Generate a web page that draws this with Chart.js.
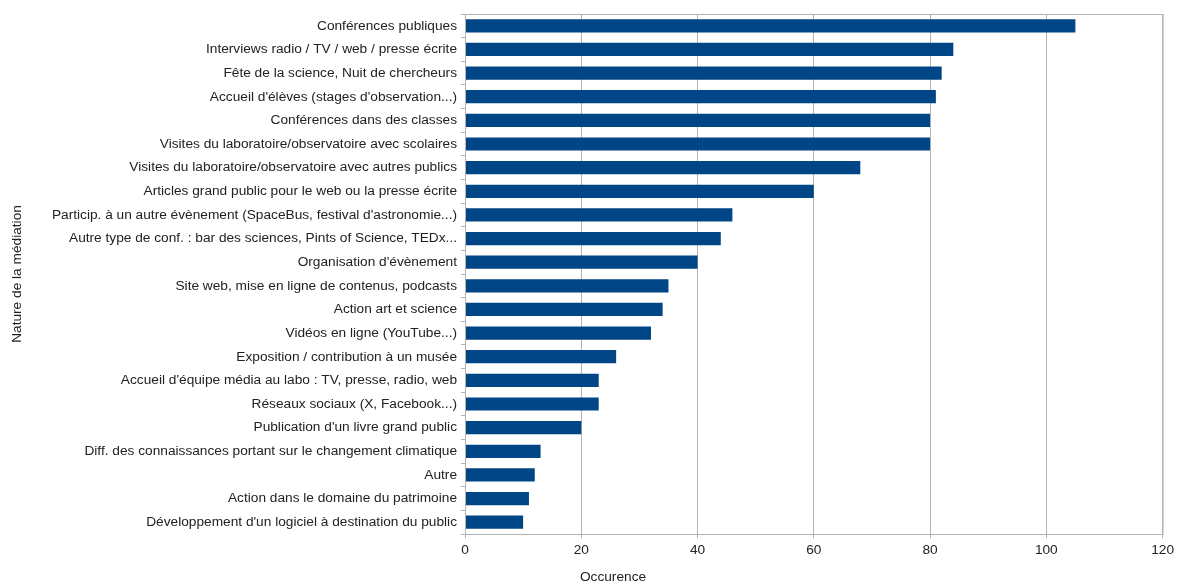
<!DOCTYPE html>
<html>
<head>
<meta charset="utf-8">
<script src="https://cdn.jsdelivr.net/npm/chart.js@4"></script>
<style>
  html, body { margin: 0; padding: 0; background: #fff; }
  #wrap { width: 1178px; height: 583px; }
</style>
</head>
<body>
<div id="wrap"><canvas id="mediation-chart"></canvas></div>
<script>
const categories = [
  "Conférences publiques",
  "Interviews radio / TV / web / presse écrite",
  "Fête de la science, Nuit de chercheurs",
  "Accueil d'élèves (stages d'observation...)",
  "Conférences dans des classes",
  "Visites du laboratoire/observatoire avec scolaires",
  "Visites du laboratoire/observatoire avec autres publics",
  "Articles grand public pour le web ou la presse écrite",
  "Particip. à un autre évènement (SpaceBus, festival d'astronomie...)",
  "Autre type de conf. : bar des sciences, Pints of Science, TEDx...",
  "Organisation d'évènement",
  "Site web, mise en ligne de contenus, podcasts",
  "Action art et science",
  "Vidéos en ligne (YouTube...)",
  "Exposition / contribution à un musée",
  "Accueil d'équipe média au labo : TV, presse, radio, web",
  "Réseaux sociaux (X, Facebook...)",
  "Publication d'un livre grand public",
  "Diff. des connaissances portant sur le changement climatique",
  "Autre",
  "Action dans le domaine du patrimoine",
  "Développement d'un logiciel à destination du public",
];
const occurrences = [105, 84, 82, 81, 80, 80, 68, 60, 46, 44, 40, 35, 34, 32, 26, 23, 23, 20, 13, 12, 11, 10];
const xTicks = [0, 20, 40, 60, 80, 100, 120];

const ctx = document.getElementById("mediation-chart");

Chart.defaults.font.family = "'Liberation Sans', Arial, sans-serif";
Chart.defaults.color = "#222";

// box around the plot + "Occurence" title (placed left of centre like the original)
const framePlugin = {
  id: "frame",
  afterDatasetsDraw(chart) {
    const { ctx, chartArea } = chart;
    ctx.save();
    ctx.strokeStyle = "#b3b3b3";
    ctx.lineWidth = 1;
    ctx.strokeRect(chartArea.left + 0.5, chartArea.top + 0.5,
      chartArea.right - chartArea.left, chartArea.bottom - chartArea.top);
    ctx.restore();
  },
  afterDraw(chart) {
    const { ctx, chartArea } = chart;
    ctx.save();
    ctx.font = "13.7px 'Liberation Sans', Arial, sans-serif";
    ctx.fillStyle = "#222";
    ctx.textAlign = "center";
    ctx.textBaseline = "middle";
    ctx.fillText("Occurence", chartArea.left + 148, chart.height - 6);
    ctx.restore();
  },
};

new Chart(ctx, {
  type: "bar",
  data: {
    labels: categories,
    datasets: [
      {
        data: occurrences,
        backgroundColor: "#004586",
        borderColor: "#004586",
        borderWidth: 0,
        barPercentage: 0.56,
        categoryPercentage: 1,
      },
    ],
  },
  options: {
    indexAxis: "y",
    animation: false,
    responsive: true,
    maintainAspectRatio: false,
    plugins: {
      legend: false,
      tooltip: { enabled: false },
    },
    layout: {
      padding: { left: 0, right: 15, top: 14, bottom: 0 },
    },
    scales: {
      x: {
        min: 0,
        max: 120,
        afterBuildTicks(scale) {
          scale.ticks = xTicks.map((v) => ({ value: v }));
        },
        afterFit(scale) {
          scale.height = 49;
        },
        grid: {
          color: "#b3b3b3",
          tickColor: "#b3b3b3",
          tickLength: 4,
        },
        border: { color: "#b3b3b3" },
        ticks: {
          font: { size: 13.7 },
          padding: 4,
        },
      },
      y: {
        afterFit(scale) {
          scale.width = 465;
        },
        grid: {
          drawOnChartArea: false,
          tickColor: "#b3b3b3",
          tickLength: 4,
        },
        border: { color: "#b3b3b3" },
        ticks: {
          font: { size: 13.7 },
          padding: 4,
          autoSkip: false,
        },
        title: {
          display: true,
          text: "Nature de la médiation",
          font: { size: 13.7 },
          padding: { top: 9, bottom: 0 },
        },
      },
    },
  },
  plugins: [framePlugin],
});
</script>
</body>
</html>
